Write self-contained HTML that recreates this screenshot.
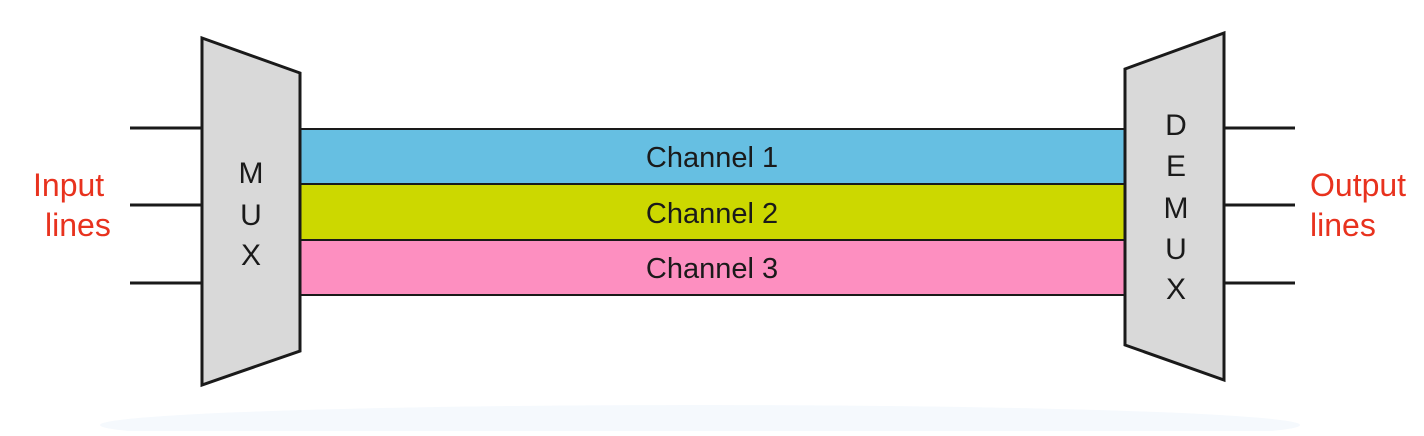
<!DOCTYPE html>
<html><head><style>html,body{margin:0;padding:0;background:#fff;}</style></head>
<body>
<svg width="1424" height="431" viewBox="0 0 1424 431" xmlns="http://www.w3.org/2000/svg" font-family="Liberation Sans, DejaVu Sans, sans-serif">
<ellipse cx="700" cy="425" rx="600" ry="20" fill="#f5f9fd"/>
<g stroke="#1a1a1a" stroke-width="3">
<line x1="130" y1="128" x2="202" y2="128"/>
<line x1="130" y1="205" x2="202" y2="205"/>
<line x1="130" y1="283" x2="202" y2="283"/>
<line x1="1224" y1="128" x2="1295" y2="128"/>
<line x1="1224" y1="205" x2="1295" y2="205"/>
<line x1="1224" y1="283" x2="1295" y2="283"/>
</g>
<g stroke="#1a1a1a" stroke-width="2">
<rect x="300" y="129" width="825" height="55" fill="#66bfe2"/>
<rect x="300" y="184" width="825" height="56" fill="#ccd800"/>
<rect x="300" y="240" width="825" height="55" fill="#fd8fc0"/>
</g>
<g stroke="#1a1a1a" stroke-width="3" fill="#d9d9d9">
<polygon points="202,38 300,73 300,351 202,385"/>
<polygon points="1125,69 1224,33 1224,380 1125,345"/>
</g>
<g font-size="29" fill="#1a1a1a" text-anchor="middle">
<text x="712" y="167">Channel 1</text>
<text x="712" y="223">Channel 2</text>
<text x="712" y="278">Channel 3</text>
</g>
<g font-size="30" fill="#1a1a1a" text-anchor="middle">
<text x="251" y="183">M</text>
<text x="251" y="225">U</text>
<text x="251" y="265">X</text>
<text x="1176" y="135">D</text>
<text x="1176" y="176">E</text>
<text x="1176" y="218">M</text>
<text x="1176" y="259">U</text>
<text x="1176" y="299">X</text>
</g>
<g font-size="32" fill="#e8321e">
<text x="33" y="196">Input</text>
<text x="45" y="236">lines</text>
<text x="1310" y="196">Output</text>
<text x="1310" y="236">lines</text>
</g>
</svg>
</body></html>
